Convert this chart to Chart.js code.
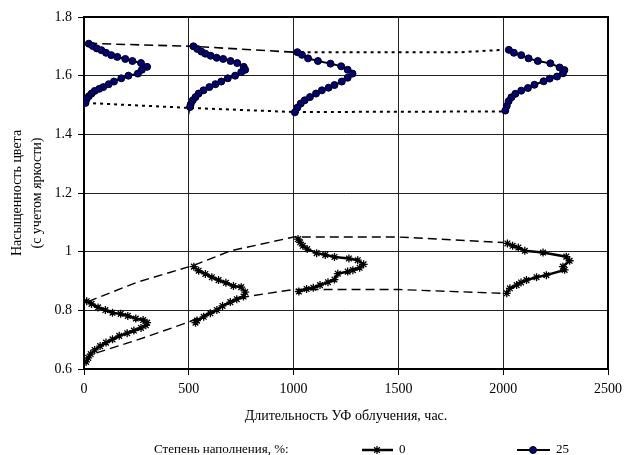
<!DOCTYPE html>
<html>
<head>
<meta charset="utf-8">
<script src="https://cdn.jsdelivr.net/npm/chart.js@4.4.1/dist/chart.umd.min.js"></script>
<style>
  html, body { margin: 0; padding: 0; background: #fff; }
  #wrap { width: 628px; height: 455px; }
</style>
</head>
<body>
<div id="wrap"><canvas id="chart" width="628" height="455"></canvas></div>
<script>
// points: [hours (shifted), saturation]
const fill0At0 = [[13,0.831],[36,0.822],[67,0.810],[102,0.801],[136,0.792],[175,0.788],[209,0.781],[247,0.772],[282,0.767],[301,0.758],[295,0.749],[272,0.740],[238,0.731],[206,0.722],[168,0.713],[136,0.701],[105,0.690],[77,0.678],[51,0.665],[32,0.651],[20,0.638],[10,0.624]];
const fill0At500 = [[524,0.949],[547,0.935],[579,0.924],[610,0.913],[642,0.903],[677,0.894],[713,0.883],[750,0.879],[769,0.862],[761,0.847],[729,0.838],[698,0.828],[661,0.815],[634,0.801],[603,0.790],[571,0.778],[539,0.765],[532,0.758]];
const fill0At1000 = [[1021,1.043],[1031,1.032],[1044,1.020],[1065,1.009],[1110,0.995],[1151,0.989],[1195,0.982],[1264,0.977],[1306,0.971],[1334,0.957],[1315,0.945],[1283,0.937],[1258,0.932],[1211,0.925],[1195,0.905],[1164,0.896],[1126,0.886],[1094,0.877],[1062,0.873],[1025,0.864]];
const fill0At2000 = [[2020,1.028],[2045,1.020],[2072,1.014],[2103,1.003],[2190,0.997],[2301,0.983],[2317,0.969],[2285,0.949],[2293,0.938],[2206,0.920],[2159,0.913],[2111,0.903],[2085,0.895],[2064,0.886],[2032,0.875],[2017,0.858]];

const fill25At0 = [[23,1.709],[42,1.701],[61,1.693],[83,1.687],[105,1.678],[130,1.670],[159,1.664],[197,1.657],[231,1.650],[272,1.643],[301,1.630],[276,1.620],[257,1.607],[212,1.600],[178,1.591],[143,1.580],[118,1.571],[92,1.561],[73,1.555],[51,1.548],[36,1.539],[23,1.530],[13,1.521],[7,1.507]];
const fill25At500 = [[522,1.700],[541,1.691],[560,1.682],[579,1.675],[604,1.668],[633,1.661],[664,1.657],[699,1.650],[731,1.643],[762,1.630],[769,1.620],[750,1.612],[721,1.600],[686,1.591],[655,1.580],[627,1.571],[598,1.561],[570,1.550],[547,1.539],[532,1.527],[519,1.516],[509,1.502],[506,1.493]];
const fill25At1000 = [[1018,1.680],[1040,1.671],[1069,1.659],[1116,1.650],[1176,1.641],[1227,1.632],[1258,1.620],[1281,1.607],[1258,1.593],[1230,1.580],[1195,1.568],[1167,1.559],[1135,1.550],[1107,1.539],[1078,1.527],[1053,1.516],[1034,1.505],[1018,1.491],[1006,1.475]];
const fill25At2000 = [[2027,1.688],[2051,1.678],[2086,1.670],[2121,1.659],[2165,1.650],[2225,1.642],[2269,1.628],[2292,1.619],[2285,1.608],[2257,1.597],[2222,1.590],[2193,1.581],[2149,1.569],[2118,1.558],[2086,1.549],[2058,1.538],[2039,1.526],[2026,1.513],[2017,1.497],[2010,1.481]];

// envelope lines
const env0Upper = [[20,0.830],[250,0.895],[530,0.955],[700,1.003],[1000,1.050],[1500,1.050],[2000,1.031]];
const env0Lower = [[60,0.655],[250,0.698],[500,0.760],[760,0.845],[1000,0.871],[1500,0.871],[2000,0.858]];
const env25Upper = [[20,1.710],[520,1.700],[1000,1.680]];
const env25UpperTail = [[1000,1.680],[1800,1.680],[2000,1.688]];
const env25Lower = [[10,1.507],[505,1.490],[1005,1.476],[2010,1.478]];

const xTicks = [0, 500, 1000, 1500, 2000, 2500];
const yTicks = [0.6, 0.8, 1.0, 1.2, 1.4, 1.6, 1.8];

const pts = arr => arr.map(([x, y]) => ({ x, y }));
const joinCurves = (...curves) => curves.reduce((acc, c, i) => {
  if (i) acc.push({ x: NaN, y: NaN });
  return acc.concat(pts(c));
}, []);

const envelope = (data, dash, width) => ({
  data: pts(data),
  showLine: true,
  borderColor: '#000',
  borderWidth: width,
  borderDash: dash,
  pointRadius: 0,
  fill: false,
});

const frame = {
  id: 'frame',
  beforeDatasetsDraw(chart) {
    const { ctx, chartArea: a } = chart;
    ctx.save();
    ctx.strokeStyle = '#000';
    ctx.lineWidth = 2;
    ctx.strokeRect(a.left, a.top, a.right - a.left, a.bottom - a.top);
    ctx.restore();
  }
};

const legendRow = {
  id: 'legendRow',
  afterDraw(chart) {
    const ctx = chart.ctx;
    const y = 450;
    ctx.save();
    ctx.fillStyle = '#000';
    ctx.font = '13px "Liberation Serif", serif';
    ctx.textBaseline = 'middle';
    ctx.fillText('Степень наполнения, %:', 154, y);

    // "0" sample
    ctx.strokeStyle = '#000';
    ctx.lineWidth = 2.5;
    ctx.beginPath(); ctx.moveTo(362, y); ctx.lineTo(393, y); ctx.stroke();
    ctx.lineWidth = 1.3;
    const r = 4;
    ctx.beginPath();
    for (let k = 0; k < 4; k++) {
      const ang = k * Math.PI / 4;
      ctx.moveTo(377 - r * Math.cos(ang), y - r * Math.sin(ang));
      ctx.lineTo(377 + r * Math.cos(ang), y + r * Math.sin(ang));
    }
    ctx.stroke();
    ctx.fillText(chart.data.datasets[0].label, 399, y);

    // "25" sample
    ctx.lineWidth = 2;
    ctx.beginPath(); ctx.moveTo(517, y); ctx.lineTo(550, y); ctx.stroke();
    ctx.lineWidth = 1;
    ctx.fillStyle = '#000080';
    ctx.beginPath(); ctx.arc(533, y, 3.5, 0, Math.PI * 2); ctx.fill(); ctx.stroke();
    ctx.fillStyle = '#000';
    ctx.fillText(chart.data.datasets[1].label, 556, y);
    ctx.restore();
  }
};

Chart.defaults.font.family = '"Liberation Serif", "Times New Roman", serif';
Chart.defaults.font.size = 14;
Chart.defaults.color = '#000';

new Chart(document.getElementById('chart'), {
  type: 'scatter',
  data: {
    datasets: [
      {
        label: '0',
        data: joinCurves(fill0At0, fill0At500, fill0At1000, fill0At2000),
        showLine: true,
        spanGaps: false,
        borderColor: '#000',
        borderWidth: 2.5,
        pointStyle: 'star',
        pointRadius: 4,
        pointBorderColor: '#000',
        pointBorderWidth: 1.3,
        pointBackgroundColor: '#000',
      },
      {
        label: '25',
        data: joinCurves(fill25At0, fill25At500, fill25At1000, fill25At2000),
        showLine: true,
        spanGaps: false,
        borderColor: '#000',
        borderWidth: 2,
        pointStyle: 'circle',
        pointRadius: 3.5,
        pointBorderColor: '#000',
        pointBorderWidth: 1,
        pointBackgroundColor: '#000080',
      },
      envelope(env0Upper, [9, 5], 1.4),
      envelope(env0Lower, [9, 5], 1.4),
      envelope(env25Upper, [9, 5], 1.6),
      envelope(env25UpperTail, [3, 4], 2),
      envelope(env25Lower, [3, 4], 2),
    ]
  },
  options: {
    responsive: false,
    animation: false,
    devicePixelRatio: 1,
    layout: { padding: { top: 17, right: 16, bottom: 30, left: 0 } },
    plugins: {
      legend: { display: false },
      tooltip: { enabled: false },
    },
    scales: {
      x: {
        type: 'linear',
        min: 0,
        max: 2500,
        afterBuildTicks: s => { s.ticks = xTicks.map(v => ({ value: v })); },
        afterFit: s => { s.height = 56; },
        ticks: { padding: 6, callback: v => String(v) },
        grid: { color: '#222', lineWidth: 1, tickLength: 6, tickColor: '#000' },
        border: { color: '#000', width: 2 },
        title: {
          display: true,
          text: 'Длительность УФ облучения, час.',
          padding: { top: 0, bottom: 0 },
        },
      },
      y: {
        type: 'linear',
        min: 0.6,
        max: 1.8,
        afterBuildTicks: s => { s.ticks = yTicks.map(v => ({ value: v })); },
        afterFit: s => { s.width = 84; },
        ticks: { padding: 6, callback: v => String(+v.toFixed(1)) },
        grid: { color: '#222', lineWidth: 1, tickLength: 6, tickColor: '#000' },
        border: { color: '#000', width: 2 },
        title: {
          display: true,
          text: ['Насыщенность цвета', '(с учетом яркости)'],
          font: { size: 14, lineHeight: 1.4 },
          padding: { top: 8, bottom: 0 },
        },
      },
    },
  },
  plugins: [frame, legendRow],
});
</script>
</body>
</html>
